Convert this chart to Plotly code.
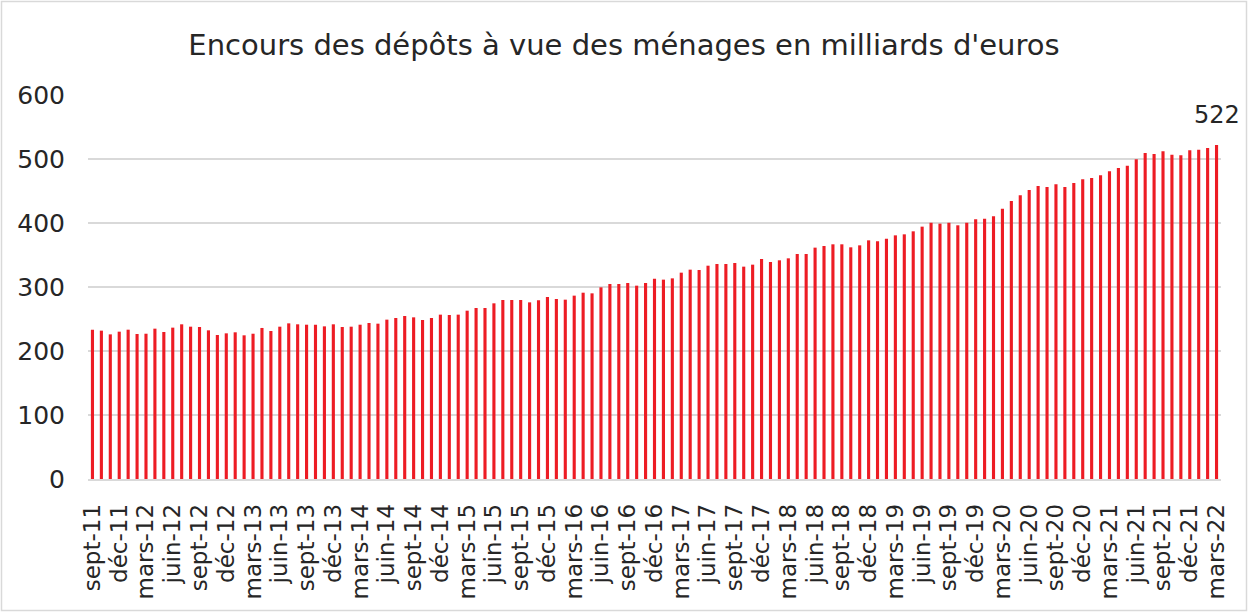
import plotly.graph_objects as go

# ---- data ----
month_names = ["janv", "févr", "mars", "avr", "mai", "juin",
               "juil", "août", "sept", "oct", "nov", "déc"]
start_year, start_month = 2011, 9   # sept-11
n_months = 127                      # through mars-22

categories = []
y_, m_ = start_year, start_month
for _ in range(n_months):
    categories.append(f"{month_names[m_ - 1]}-{str(y_)[2:]}")
    m_ += 1
    if m_ > 12:
        m_ = 1
        y_ += 1

deposits = [
    233.3, 231.8, 226.0, 230.2, 233.3, 226.6, 227.0, 234.9, 229.7, 236.5,
    241.7, 238.0, 237.5, 232.3, 225.0, 227.6, 229.2, 224.5, 227.0, 236.0,
    231.3, 238.0, 243.2, 241.7, 241.1, 241.1, 238.5, 241.7, 237.5, 238.0,
    241.1, 243.8, 242.7, 249.0, 251.6, 254.7, 252.6, 248.4, 251.6, 256.8,
    256.3, 256.8, 263.0, 267.2, 267.2, 274.5, 279.7, 279.7, 279.7, 276.0,
    279.2, 284.4, 281.3, 280.2, 286.5, 291.1, 290.1, 299.5, 304.7, 304.7,
    306.3, 302.1, 306.3, 313.0, 311.5, 313.5, 322.4, 327.1, 326.6, 333.3,
    335.9, 335.9, 337.5, 331.8, 334.9, 343.8, 339.1, 341.7, 344.8, 351.6,
    351.6, 361.5, 364.1, 366.7, 366.7, 362.0, 365.1, 372.9, 371.4, 375.5,
    380.7, 382.3, 387.0, 394.3, 400.5, 399.0, 400.5, 396.4, 400.5, 405.7,
    406.8, 410.4, 422.4, 434.4, 443.2, 451.6, 457.8, 456.3, 460.4, 456.3,
    462.5, 468.2, 470.3, 474.5, 480.7, 485.9, 489.6, 499.5, 509.4, 507.8,
    512.0, 506.8, 505.7, 513.5, 514.6, 517.2, 522.0,
]

tick_labels = categories[::3]
last_label = "522"

title_text = "Encours des dépôts à vue des ménages en milliards d'euros"

# ---- figure ----
FONT = "DejaVu Sans"
TXT = "#262626"
GRID = "#D9D9D9"

W, H = 1248, 612
ML, MR, MT, MB = 88, 27, 95, 133
pw, ph = W - ML - MR, H - MT - MB

fig = go.Figure()
fig.add_trace(go.Bar(
    x=categories, y=deposits,
    marker=dict(color="#ED1C24", line=dict(width=0)),
    hoverinfo="x+y",
))

fig.add_annotation(
    x=categories[-1], y=deposits[-1], text=last_label,
    showarrow=False, yanchor="bottom", yshift=14,
    font=dict(family=FONT, size=24, color=TXT),
)

# light border around the chart area
fig.add_shape(
    type="rect", xref="paper", yref="paper",
    x0=(1.5 - ML) / pw, x1=(W - 1.5 - ML) / pw,
    y0=-(H - 1.5 - MT - ph) / ph, y1=1 + (MT - 1.5) / ph,
    line=dict(color=GRID, width=1.5), layer="below",
)

fig.update_layout(
    width=W, height=H,
    margin=dict(l=ML, r=MR, t=MT, b=MB, autoexpand=False),
    paper_bgcolor="white", plot_bgcolor="white",
    bargap=0.65,
    showlegend=False,
    font=dict(family=FONT, color=TXT),
    title=dict(text=title_text, x=0.5, xref="container", xanchor="center",
               y=1 - 45 / H, yref="container", yanchor="middle",
               automargin=False,
               font=dict(family=FONT, size=29, color=TXT)),
)

fig.update_xaxes(
    type="category", automargin=False,
    range=[-0.5, len(categories) - 0.5], autorange=False,
    tickmode="array", tickvals=tick_labels, ticktext=tick_labels,
    tickangle=-90,
    tickfont=dict(family=FONT, size=23, color=TXT),
    showgrid=False,
    showline=True, linecolor=GRID, linewidth=1.5,
    ticks="", ticklabelstandoff=14,
)
fig.update_yaxes(
    range=[0, 600], dtick=100, automargin=False, autorange=False,
    tickfont=dict(family=FONT, size=25, color=TXT),
    showgrid=True, gridcolor=GRID, gridwidth=1.5,
    zeroline=False, showline=False,
    ticks="", ticklabelstandoff=22,
)

fig.write_html(
    "out.html",
    config={"displayModeBar": False},
    post_script="document.body.style.margin='0';document.body.style.padding='0';",
)
